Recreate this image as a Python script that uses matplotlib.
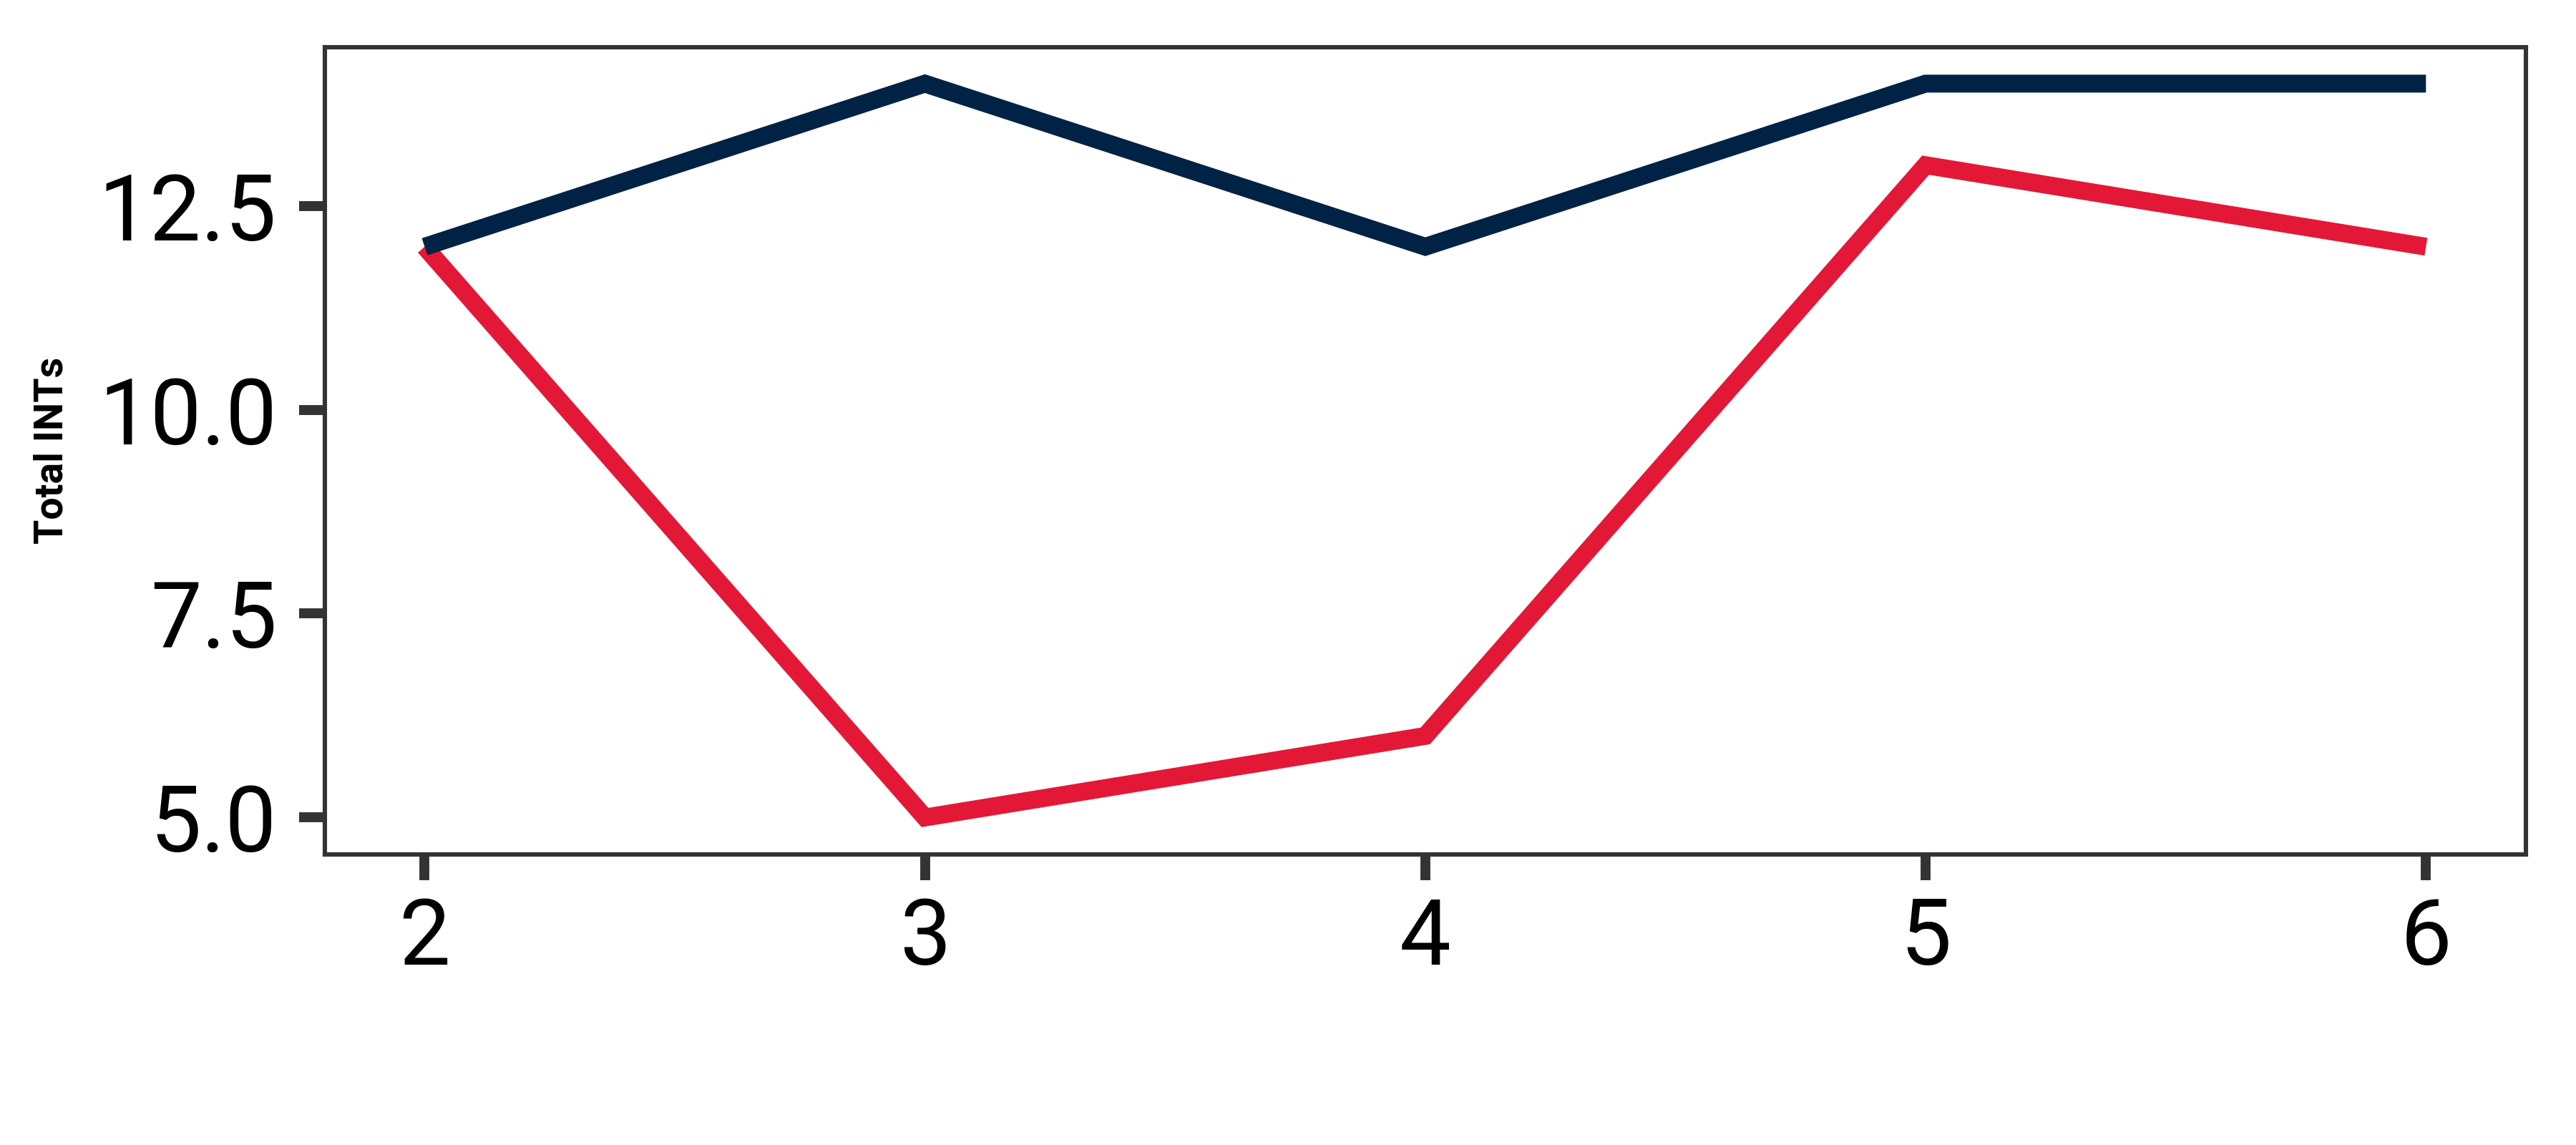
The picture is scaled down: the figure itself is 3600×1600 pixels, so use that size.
import matplotlib
matplotlib.use("Agg")
import matplotlib.pyplot as plt

weeks = [2, 3, 4, 5, 6]
red_ints = [12, 5, 6, 13, 12]
navy_ints = [12, 14, 12, 14, 14]
ytick_vals = [5.0, 7.5, 10.0, 12.5]
ytick_labels = ["5.0", "7.5", "10.0", "12.5"]

RED = "#E31837"
NAVY = "#002244"
SPINE = "#333333"

plt.rcParams['font.family'] = ['Roboto', 'DejaVu Sans']

fig = plt.figure(figsize=(18, 8), dpi=200)
ax = fig.add_axes([0.126, 0.254, 0.8546, 0.705])

ax.plot(weeks, red_ints, color=RED, lw=9, solid_joinstyle='miter', solid_capstyle='butt')
ax.plot(weeks, navy_ints, color=NAVY, lw=9, solid_joinstyle='miter', solid_capstyle='butt')

ax.set_xticks(weeks)
ax.set_xticklabels([str(w) for w in weeks])
ax.set_yticks(ytick_vals)
ax.set_yticklabels(ytick_labels)
ax.margins(x=0.05, y=0.05)

for s in ax.spines.values():
    s.set_color(SPINE)
    s.set_linewidth(2.2)

ax.tick_params(axis='both', length=13, width=5.0, color=SPINE, labelsize=46, labelcolor='black')
ax.tick_params(axis='y', pad=11)
ax.tick_params(axis='x', pad=8)

ax.set_ylabel("Total INTs", fontsize=20, fontweight='bold', labelpad=14)

fig.savefig("out.png", dpi=200, facecolor='white')
